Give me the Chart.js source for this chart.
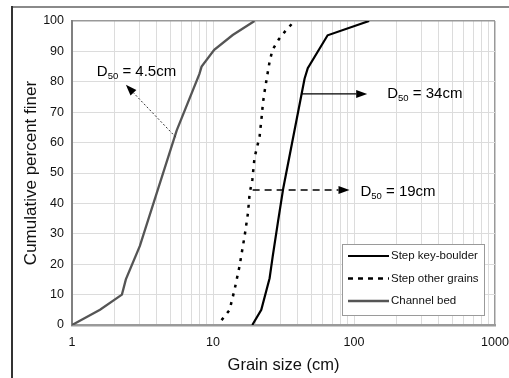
<!DOCTYPE html>
<html>
<head>
<meta charset="utf-8">
<script src="https://cdn.jsdelivr.net/npm/chart.js@4/dist/chart.umd.min.js"></script>
<style>
html,body{margin:0;padding:0;background:#fff;}
#wrap{width:509px;height:378px;}
</style>
</head>
<body>
<div id="wrap"><canvas id="c" width="509" height="378"></canvas></div>
<script>
// ---- data ----
const seriesNames = ['Step key-boulder', 'Step other grains', 'Channel bed'];

const keyBoulderSize = [19, 22, 25.2, 26.5, 28.8, 31.5, 44.6, 47, 65, 128];
const keyBoulderPct  = [0, 5, 15.4, 22.5, 33.5, 45, 81, 84.5, 95.3, 100];

const otherGrainsSize = [11.5, 13.1, 14.2, 15.4, 16.8, 17.7, 18.2, 19.0, 19.7, 21.4, 22.2, 22.6, 23.2, 24.5, 25.2, 26.4, 29.3, 33, 37.9];
const otherGrainsPct  = [1.6, 4.9, 11.5, 19.2, 29.6, 36.8, 43.4, 47.7, 55, 62, 69, 73, 76.7, 83.3, 86.6, 90.5, 94, 97, 100];

const channelSize = [1, 1.58, 2.26, 2.41, 3.03, 5.53, 8.0, 8.3, 10.2, 13.8, 19.7];
const channelPct  = [0, 5, 10, 15, 26, 64, 82.5, 85, 90.5, 95.4, 100];

const xTickLabels = ['1', '10', '100', '1000'];
const yTickLabels = ['0','10','20','30','40','50','60','70','80','90','100'];

// D50 annotations (data space)
const d50Labels   = ['4.5cm', '34cm', '19cm'];
const d50FromX    = [5.44, 42.5, 19.1];
const d50FromY    = [61.8, 76, 44.4];
const d50ToX      = [2.41, 124, 92.9];
const d50ToY      = [79, 76, 44.4];
const d50TextX    = [1.50, 172, 111];
const d50TextY    = [83.2, 76, 43.7];

// ---- helpers ----
function pts(xs, ys){ return xs.map((x,i)=>({x:x, y:ys[i]})); }
const FONT = '"Liberation Sans", Arial, sans-serif';

const frame = {
  id:'frame',
  beforeDraw(chart){
    const c = chart.ctx;
    c.save();
    c.fillStyle = '#fff';
    c.fillRect(0,0,chart.width,chart.height);
    c.strokeStyle = '#8a8a8a'; c.lineWidth = 2;
    c.beginPath(); c.moveTo(12,7); c.lineTo(chart.width,7); c.stroke();
    c.strokeStyle = '#333'; c.lineWidth = 2;
    c.beginPath(); c.moveTo(12,6); c.lineTo(12,chart.height); c.stroke();
    c.restore();
  }
};

const dashStyles = [[2,2],[],[7,5]];
const annot = {
  id:'annot',
  afterDatasetsDraw(chart){
    const c = chart.ctx, xs = chart.scales.x, ys = chart.scales.y;
    c.save();
    for (let i=0;i<d50Labels.length;i++){
      const x1 = xs.getPixelForValue(d50FromX[i]), y1 = ys.getPixelForValue(d50FromY[i]);
      const x2 = xs.getPixelForValue(d50ToX[i]),   y2 = ys.getPixelForValue(d50ToY[i]);
      const ang = Math.atan2(y2-y1, x2-x1);
      const hl = 11, hw = 4;
      const bx = x2 - hl*Math.cos(ang), by = y2 - hl*Math.sin(ang);
      c.strokeStyle = i===0 ? '#333' : '#000';
      c.lineWidth = i===0 ? 1 : 1.3;
      c.setLineDash(dashStyles[i]);
      c.beginPath(); c.moveTo(x1,y1); c.lineTo(bx,by); c.stroke();
      c.setLineDash([]);
      c.fillStyle = '#000';
      c.beginPath();
      c.moveTo(x2,y2);
      c.lineTo(bx + hw*Math.sin(ang), by - hw*Math.cos(ang));
      c.lineTo(bx - hw*Math.sin(ang), by + hw*Math.cos(ang));
      c.closePath(); c.fill();
      // text
      let tx = xs.getPixelForValue(d50TextX[i]);
      const ty = ys.getPixelForValue(d50TextY[i]);
      c.fillStyle = '#000';
      c.textBaseline = 'middle'; c.textAlign = 'left';
      c.font = '15px ' + FONT;
      c.fillText('D', tx, ty); tx += c.measureText('D').width;
      c.font = '9.5px ' + FONT;
      c.fillText('50', tx, ty + 4); tx += c.measureText('50').width;
      c.font = '15px ' + FONT;
      c.fillText(' = ' + d50Labels[i], tx, ty);
    }
    c.restore();
  }
};

const legendBox = {
  id:'legendBox',
  afterDraw(chart){
    const c = chart.ctx, a = chart.chartArea;
    const left = a.right - 153, top = a.bottom - 81, w = 142, h = 71;
    c.save();
    c.fillStyle = '#fff';
    c.fillRect(left, top, w, h);
    c.strokeStyle = '#9a9a9a'; c.lineWidth = 1;
    c.strokeRect(left+0.5, top+0.5, w, h);
    const ds = chart.data.datasets;
    for (let i=0;i<ds.length;i++){
      const y = top + 12 + i*22.5;
      c.strokeStyle = ds[i].borderColor;
      c.lineWidth = ds[i].borderWidth;
      c.setLineDash(i===1 ? [5,5] : []);
      c.beginPath(); c.moveTo(left+6, y); c.lineTo(left+47, y); c.stroke();
      c.setLineDash([]);
      c.fillStyle = '#111';
      c.font = '11.5px ' + FONT;
      c.textBaseline = 'middle'; c.textAlign = 'left';
      c.fillText(ds[i].label, left+49, y);
    }
    c.restore();
  }
};

new Chart(document.getElementById('c'), {
  type: 'line',
  data: {
    datasets: [
      { label: seriesNames[0], data: pts(keyBoulderSize, keyBoulderPct), borderColor:'#000', borderWidth:2.2, pointRadius:0, tension:0, fill:false },
      { label: seriesNames[1], data: pts(otherGrainsSize, otherGrainsPct), borderColor:'#000', borderWidth:2.5, borderDash:[3,6], pointRadius:0, tension:0, fill:false },
      { label: seriesNames[2], data: pts(channelSize, channelPct), borderColor:'#555555', borderWidth:2.3, pointRadius:0, tension:0, fill:false }
    ]
  },
  options: {
    responsive:false,
    animation:false,
    layout:{ padding:{ left:0, top:21, right:14, bottom:0 } },
    plugins:{ legend:{display:false}, tooltip:{enabled:false} },
    scales:{
      x:{
        type:'logarithmic', min:1, max:1000,
        afterBuildTicks(scale){
          const t = [];
          for (let d=1; d<1000; d*=10) for (let m=1;m<10;m++) t.push({value:m*d});
          t.push({value:1000});
          scale.ticks = t;
        },
        afterFit(scale){ scale.height = 53; scale.paddingLeft = 0; scale.paddingRight = 0; },
        ticks:{
          autoSkip:false, maxRotation:0, minRotation:0, padding:10,
          color:'#111', font:{family:FONT, size:12.5},
          callback(v){
            const k = Math.round(Math.log10(v));
            return Math.abs(Math.log10(v)-k) < 1e-9 ? xTickLabels[k] : '';
          }
        },
        grid:{ drawTicks:false, color(ctx){ return ctx.tick && ctx.tick.value===1000 ? '#999' : '#dcdcdc'; }, lineWidth(ctx){ return ctx.tick && ctx.tick.value===1000 ? 1.5 : 1; } },
        border:{ color:'#9a9a9a', width:2.5 },
        title:{ display:true, text:'Grain size (cm)', color:'#111', font:{family:FONT, size:16.5}, padding:{top:0, bottom:3} }
      },
      y:{
        type:'linear', min:0, max:100,
        afterBuildTicks(scale){ scale.ticks = yTickLabels.map(s=>({value:Number(s)})); },
        afterFit(scale){ scale.width = 72; },
        ticks:{ padding:8, color:'#111', font:{family:FONT, size:12.5}, callback(v){ return yTickLabels[Math.round(v/10)]; } },
        grid:{ drawTicks:false, color(ctx){ return ctx.tick && ctx.tick.value===100 ? '#999' : '#dcdcdc'; }, lineWidth(ctx){ return ctx.tick && ctx.tick.value===100 ? 1.5 : 1; } },
        border:{ color:'#808080', width:2 },
        title:{ display:true, text:'Cumulative percent finer', color:'#111', font:{family:FONT, size:17}, padding:{top:21, bottom:0} }
      }
    }
  },
  plugins:[frame, annot, legendBox]
});
</script>
</body>
</html>
